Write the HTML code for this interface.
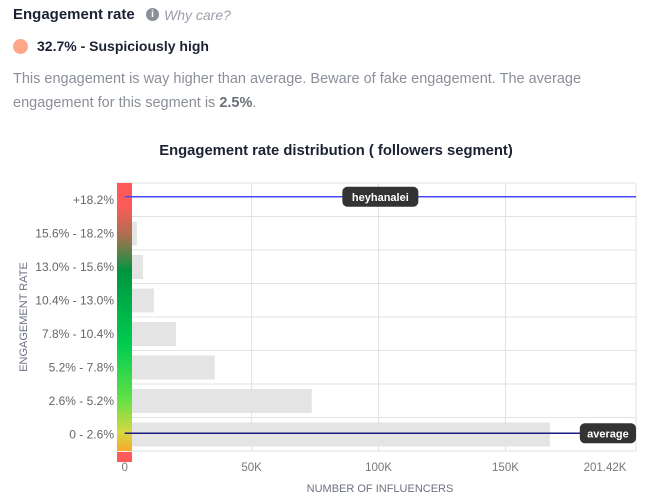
<!DOCTYPE html>
<html><head><meta charset="utf-8"><style>
body{margin:0;width:668px;height:503px;background:#fff;font-family:"Liberation Sans",sans-serif;position:relative;overflow:hidden}
.t{position:absolute;white-space:nowrap}
</style></head><body>
<div class="t" style="left:13px;top:6px;font-size:15px;font-weight:bold;color:#1c2233">Engagement rate</div>
<div style="position:absolute;left:146px;top:8px;width:13px;height:13px;border-radius:50%;background:#8a8f98;color:#fff;font-size:10px;font-weight:bold;text-align:center;line-height:13px">i</div>
<div class="t" style="left:164px;top:7px;font-size:14px;font-style:italic;color:#9aa0a8">Why care?</div>
<div style="position:absolute;left:13px;top:39px;width:15px;height:15px;border-radius:50%;background:#ffa68a"></div>
<div class="t" style="left:37px;top:38px;font-size:14px;font-weight:bold;color:#1c2233">32.7% - Suspiciously high</div>
<div class="t" style="left:13px;top:67px;font-size:14.5px;line-height:24px;color:#8a8f98">This engagement is way higher than average. Beware of fake engagement. The average<br>engagement for this segment is <b style="color:#6b7078">2.5%</b>.</div>
<div class="t" style="left:0;width:672px;text-align:center;top:143px;font-size:14.8px;font-weight:bold;color:#1c2233">Engagement rate distribution ( followers segment)</div>
<svg id="chart" width="668" height="503" style="position:absolute;left:0;top:0">
<defs><linearGradient id="g" x1="0" y1="0" x2="0" y2="1">
<stop offset="0" stop-color="#ff5a5a"/><stop offset="0.08" stop-color="#ff5a5a"/><stop offset="0.2" stop-color="#a87050"/><stop offset="0.33" stop-color="#00953f"/><stop offset="0.6" stop-color="#00cc50"/><stop offset="0.8" stop-color="#5de048"/><stop offset="0.93" stop-color="#d6d840"/><stop offset="1" stop-color="#f8a830"/></linearGradient></defs>
</svg>
<div class="t" style="left:24px;top:317px;font-size:11px;color:#6b7280;transform:translate(-50%,-50%) rotate(-90deg)">ENGAGEMENT RATE</div>
<div class="t" style="left:380px;top:483px;font-size:11px;color:#6b7280;transform:translateX(-50%)">NUMBER OF INFLUENCERS</div>
<script>
const categories=["+18.2%","15.6% - 18.2%","13.0% - 15.6%","10.4% - 13.0%","7.8% - 10.4%","5.2% - 7.8%","2.6% - 5.2%","0 - 2.6%"];
const counts=[0,4800,7200,11500,20200,35500,73700,167500];
const xTicks=[0,50000,100000,150000,201420];
const xTickLabels=["0","50K","100K","150K","201.42K"];
const markers=[{label:"heyhanalei",row:0,color:"#4848ff"},{label:"average",row:7,color:"#1a1a80"}];
const NS="http://www.w3.org/2000/svg",svg=document.getElementById("chart");
const X0=124.7,X1=636,XMAX=201420,Y0=183,Y1=451,RH=(Y1-Y0)/categories.length;
const x=v=>X0+(X1-X0)*v/XMAX, y=i=>Y0+i*RH;
function el(t,a){const e=document.createElementNS(NS,t);for(const k in a)e.setAttribute(k,a[k]);svg.appendChild(e);return e;}
for(let i=0;i<=categories.length;i++){const l=el("line",{x1:X0-8,x2:X1,y1:y(i),y2:y(i),stroke:"#e2e2e2"});}
xTicks.forEach((v,i)=>{const l=el("line",{x1:x(v),x2:x(v),y1:Y0,y2:Y1,stroke:"#e0e0e0"});
const t=el("text",{x:i==xTicks.length-1?x(v)-31:x(v),y:471,"text-anchor":"middle","font-size":11.5,fill:"#777"});t.textContent=xTickLabels[i];});
categories.forEach((c,i)=>{const t=el("text",{x:114,y:y(i)+RH/2+4,"text-anchor":"end","font-size":12,fill:"#666"});t.textContent=c;
if(counts[i]>0){const r=el("rect",{x:X0,y:y(i)+5,width:x(counts[i])-X0,height:24,fill:"#e4e4e4"});}});
const s=el("rect",{x:117,y:Y0,width:15,height:Y1-Y0,fill:"url(#g)"});
const s2=el("rect",{x:117,y:Y1+1,width:15,height:10,fill:"#ff5a5a"});
markers.forEach(m=>{const cy=y(m.row)+RH/2-3+(m.row==7?2:0);
const l=el("line",{x1:X0,x2:X1,y1:cy,y2:cy,stroke:m.color,"stroke-width":1.5});
const w=m.label.length*6.6+10,cx=m.row==0?(X0+X1)/2:X1-w/2;
const b=el("rect",{x:cx-w/2,y:cy-10,width:w,height:20,rx:5,fill:"#333"});
const t=el("text",{x:cx,y:cy+4,"text-anchor":"middle","font-size":11,"font-weight":"bold",fill:"#fff"});t.textContent=m.label;});
</script>
</body></html>
